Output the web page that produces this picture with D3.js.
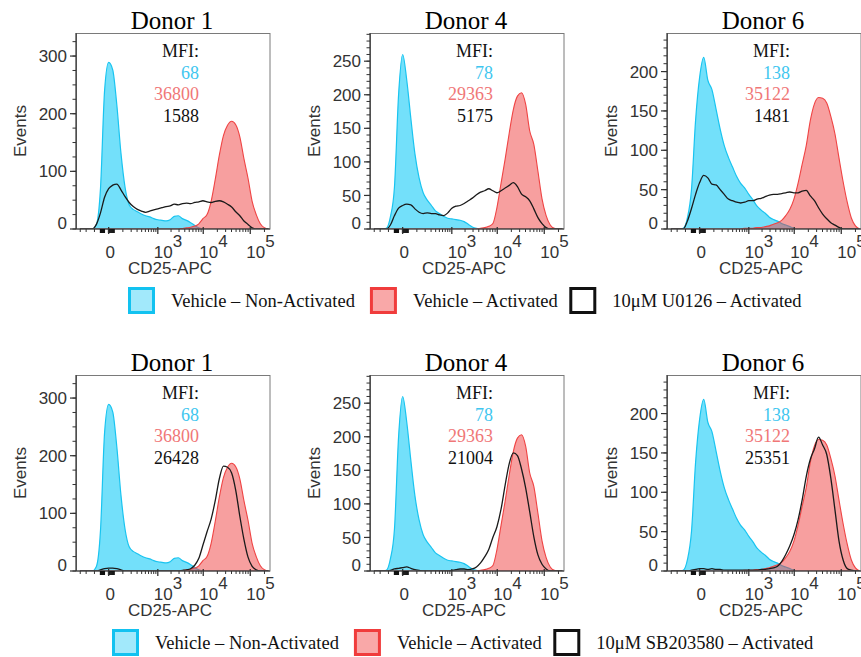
<!DOCTYPE html>
<html>
<head>
<meta charset="utf-8">
<script src="https://cdn.jsdelivr.net/npm/d3@7"></script>
<style>
  body { margin: 0; background: #fff; }
  svg { display: block; }
</style>
</head>
<body>
<svg id="chart" width="861" height="657"></svg>
<script>
// Histogram bin centres (CD25-APC intensity), evenly spaced on the biexponential display
const binCenters = [-306, -232, -172, -123, -82, -49, -22, 0, 22, 49, 82, 123, 172, 232, 306, 395, 505, 639,
  803, 1002, 1246, 1544, 1909, 2353, 2896, 3560, 4370, 5360, 6569, 8045, 9848, 12051, 14741, 18027, 22040,
  26945, 32930, 40243, 49180, 60081, 73399, 89642, 109563, 133845, 163536, 199700, 243900];

const donors = ["Donor 1", "Donor 4", "Donor 6"];

// Vehicle – Non-Activated (events per bin)
const nonActD1 = [0,0,0,0,8,70,240,289,276,215,132,72,42,34,30,26,23,21,18,16,15,14,16,22,23,18,15,11,6,2,
  0,0,0,0,0,0,0,0,0,0,0,0,0,0,0,0,0];
const nonActD4 = [0,0,0,1,18,63,200,260,222,165,112,76,54,43,35,27,23,19,16,15,14,13,11,7,3,1,
  0,0,0,0,0,0,0,0,0,0,0,0,0,0,0,0,0,0,0,0,0];
const nonActD6 = [0,0,0,1,14,50,138,193,218,189,177,152,127,106,91,79,67,58,52,44,37,29,24,20,15,12,10,7,5,3,1,
  0,0,0,0,0,0,0,0,0,0,0,0,0,0,0,0];

// Vehicle – Activated
const actD1 = [0,0,0,0,0,0,0,0,0,0,0,0,0,0,0,0,0,0,0,0,0,0,0,0,0,
  1,2,3,5,9,18,25,48,86,128,162,180,187,181,160,122,88,48,25,9,2,0];
const actD4 = [0,0,0,0,0,0,0,0,0,0,0,0,0,0,0,0,0,0,0,0,0,0,0,0,0,
  0,1,2,4,8,32,68,104,143,178,198,203,186,146,126,86,45,20,6,1,0,0];
const actD6 = [0,0,0,0,0,0,0,0,0,0,0,0,0,0,0,0,0,
  0,1,1,1,2,2,3,4,6,8,11,17,25,38,58,82,106,138,159,167,166,160,143,121,90,60,34,14,4,0];

// 10µM U0126 – Activated
const u0126D1 = [0,0,0,0,8,28,55,70,76,78,68,56,46,39,34,31,29,31,33,35,37,39,40,43,42,44,45,44,46,47,
  49,47,46,48,49,47,43,38,30,23,14,8,2,0,0,0,0];
const u0126D4 = [0,0,0,0,6,20,31,35,37,36,30,25,23,24,23,23,21,20,24,31,34,35,38,42,46,51,55,57,60,57,
  54,57,61,65,69,63,52,48,42,30,17,8,2,0,0,0,0];
const u0126D6 = [0,0,0,0,10,26,44,59,68,65,57,56,50,44,38,36,34,33,34,36,36,38,39,41,43,44,44,45,46,47,
  46,46,48,49,42,36,27,19,13,8,5,2,0,0,0,0,0];

// 10µM SB203580 – Activated
const sbD1 = [0,0,0,0,0,2,4,5,5,4,2,0,0,0,0,0,0,0,0,0,0,0,0,0,0,
  1,2,4,10,22,45,68,90,122,160,182,180,170,140,95,55,24,8,2,0,0,0];
const sbD4 = [0,0,0,0,1,3,4,5,6,4,2,1,0,0,0,0,0,0,0,1,2,3,3,2,3,
  6,12,21,32,50,66,92,128,160,176,172,152,124,88,51,24,10,3,0,0,0,0];
const sbD6 = [0,0,0,0,0,1,2,3,3,2,3,2,2,1,1,1,1,1,1,1,1,1,2,2,3,
  4,6,12,21,32,46,65,90,120,142,155,170,160,148,118,78,38,14,3,1,0,0];

const nonActivated = [nonActD1, nonActD4, nonActD6];
const activated = [actD1, actD4, actD6];
const treatedU0126 = [u0126D1, u0126D4, u0126D6];
const treatedSB = [sbD1, sbD4, sbD6];

// Median fluorescence intensities
const mfiNonActivated = [68, 78, 138];
const mfiActivated = [36800, 29363, 35122];
const mfiU0126 = [1588, 5175, 1481];
const mfiSB203580 = [26428, 21004, 25351];

// Event-count axes per donor
const eventsMax = [340, 292, 249];
const eventsMajorStep = [100, 50, 50];
const eventsMinorStep = [25, 10, 10];

// CD25-APC axis ticks
const xDomain = [-392, 262144];
const xMajorTicks = [0, 1000, 10000, 100000];
const xTickExponents = ["", "3", "4", "5"];
const xMinorTicks = [-300, -200, -100, 100, 200, 300, 400, 500, 600, 700, 800, 900,
  2000, 3000, 4000, 5000, 6000, 7000, 8000, 9000,
  20000, 30000, 40000, 50000, 60000, 70000, 80000, 90000, 200000];
const xZeroTicks = [-48, -42, -36, -30, -24, 0, 6, 12, 18, 24, 30];

const legendTop = ["Vehicle – Non-Activated", "Vehicle – Activated", "10μM U0126 – Activated"];
const legendBottom = ["Vehicle – Non-Activated", "Vehicle – Activated", "10μM SB203580 – Activated"];

// ---- layout & style ----
const W = 194, H = 196;
const panelLeft = [76, 370, 667];
const rowTop = [33, 375];
const legendStart = [128, 112];
const serif = "'Liberation Serif', 'Times New Roman', Times, serif";
const sans = "'Liberation Sans', Arial, Helvetica, sans-serif";
const C = {
  cyanFill: "rgba(0,198,245,0.55)", cyanLine: "#19c4f0", cyanText: "#3fc6ef",
  redFill: "rgba(240,64,64,0.5)", redLine: "#ef4444", redText: "#f07777",
  black: "#1a1a1a", axis: "#333", box: "#7a7a7a"
};

const svg = d3.select("#chart");
const defs = svg.append("defs");
defs.append("clipPath").attr("id", "plotClip")
  .append("rect").attr("x", 0).attr("y", 0).attr("width", W).attr("height", H);

const x = d3.scaleSymlog().constant(100).domain(xDomain).range([0, W]);

function toPoints(counts) {
  return binCenters.map((v, i) => ({ v, c: counts[i] }));
}

function drawPanel(row, col, treated, mfiTreated) {
  const g = svg.append("g").attr("transform", `translate(${panelLeft[col]},${rowTop[row]})`);
  const y = d3.scaleLinear().domain([0, eventsMax[col]]).range([H, 0]);

  const area = d3.area().x(d => x(d.v)).y0(y(0)).y1(d => y(d.c)).curve(d3.curveMonotoneX);
  const line = d3.line().x(d => x(d.v)).y(d => y(d.c)).curve(d3.curveMonotoneX);

  const plot = g.append("g").attr("clip-path", "url(#plotClip)");
  plot.append("path").datum(toPoints(nonActivated[col]))
    .attr("d", area).attr("fill", C.cyanFill).attr("stroke", C.cyanLine).attr("stroke-width", 1.2);
  plot.append("path").datum(toPoints(activated[col]))
    .attr("d", area).attr("fill", C.redFill).attr("stroke", C.redLine).attr("stroke-width", 1.1);
  plot.append("path").datum(toPoints(treated[col]))
    .attr("d", line).attr("fill", "none").attr("stroke", C.black).attr("stroke-width", 1.3);

  // frame
  g.append("rect").attr("x", 0.5).attr("y", 0.5).attr("width", W - 0.5).attr("height", H - 0.5)
    .attr("fill", "none").attr("stroke", C.box).attr("stroke-width", 1);
  g.append("line").attr("x1", 0).attr("x2", 0).attr("y1", 0).attr("y2", H)
    .attr("stroke", C.axis).attr("stroke-width", 1.2);
  g.append("line").attr("x1", 0).attr("x2", W).attr("y1", H).attr("y2", H)
    .attr("stroke", C.axis).attr("stroke-width", 1.2);

  // y axis ticks
  const minor = d3.range(0, eventsMax[col] + 0.01, eventsMinorStep[col]);
  const major = d3.range(0, eventsMax[col] + 0.01, eventsMajorStep[col]);
  g.selectAll(".ymin").data(minor).join("line")
    .attr("x1", -3.5).attr("x2", 0).attr("y1", d => y(d)).attr("y2", d => y(d))
    .attr("stroke", C.axis).attr("stroke-width", 1);
  g.selectAll(".ymaj").data(major).join("line")
    .attr("x1", -6).attr("x2", 0).attr("y1", d => y(d)).attr("y2", d => y(d))
    .attr("stroke", C.axis).attr("stroke-width", 1.2);
  g.selectAll(".ylab").data(major).join("text")
    .attr("x", -9).attr("y", d => d === 0 ? y(d) - 6 : y(d))
    .attr("dy", "0.36em").attr("text-anchor", "end")
    .attr("font-family", sans).attr("font-size", 17).attr("fill", C.axis)
    .text(d => d);

  g.append("text")
    .attr("transform", `translate(${-56},${H / 2}) rotate(-90)`)
    .attr("text-anchor", "middle").attr("dy", "0.36em")
    .attr("font-family", sans).attr("font-size", 17).attr("fill", C.axis)
    .text("Events");

  // x axis ticks
  g.selectAll(".xmin").data(xMinorTicks).join("line")
    .attr("x1", d => x(d)).attr("x2", d => x(d)).attr("y1", H).attr("y2", H + 3)
    .attr("stroke", C.axis).attr("stroke-width", 1);
  g.selectAll(".xzero").data(xZeroTicks).join("line")
    .attr("x1", d => x(d)).attr("x2", d => x(d)).attr("y1", H).attr("y2", H + 4)
    .attr("stroke", "#111").attr("stroke-width", 1.6);
  g.selectAll(".xmaj").data(xMajorTicks).join("line")
    .attr("x1", d => x(d)).attr("x2", d => x(d)).attr("y1", H - 2).attr("y2", H + 5)
    .attr("stroke", C.axis).attr("stroke-width", 1.3);

  const xl = g.selectAll(".xlab").data(xMajorTicks).join("text")
    .attr("font-family", sans).attr("font-size", 17).attr("fill", C.axis)
    .attr("x", (d, i) => i === 0 ? x(d) + 1.5 : x(d) - 4)
    .attr("y", H + 29)
    .attr("text-anchor", (d, i) => i === 0 ? "middle" : "start");
  xl.each(function (d, i) {
    const t = d3.select(this);
    if (i === 0) { t.text("0"); return; }
    t.append("tspan").text("10");
    t.append("tspan").attr("dy", -11.5).text(xTickExponents[i]);
  });

  g.append("text").attr("x", W / 2 - 3).attr("y", H + 45)
    .attr("text-anchor", "middle")
    .attr("font-family", sans).attr("font-size", 17).attr("fill", C.axis)
    .text("CD25-APC");

  // title
  g.append("text").attr("x", W / 2 - 1).attr("y", -4)
    .attr("text-anchor", "middle")
    .attr("font-family", serif).attr("font-size", 25).attr("fill", "#000")
    .text(donors[col]);

  // MFI block
  const mfiLines = [
    { t: "MFI:", c: "#111" },
    { t: mfiNonActivated[col], c: C.cyanText },
    { t: mfiActivated[col], c: C.redText },
    { t: mfiTreated[col], c: "#111" }
  ];
  g.selectAll(".mfi").data(mfiLines).join("text")
    .attr("x", 123).attr("y", (d, i) => 24 + i * 21.6)
    .attr("text-anchor", "end")
    .attr("font-family", serif).attr("font-size", 18).attr("fill", d => d.c)
    .text(d => d.t);
}

function drawLegend(row, labels) {
  const g = svg.append("g").attr("transform", `translate(0,${rowTop[row] + 254})`);
  const styles = [
    { fill: "#a2e9fb", stroke: "#12c2f0" },
    { fill: "#f9a8a8", stroke: "#f03c3c" },
    { fill: "#ffffff", stroke: "#111111" }
  ];
  const gaps = [15, 11.5];
  let cx = legendStart[row];
  labels.forEach((label, i) => {
    g.append("rect").attr("x", cx + 1.5).attr("y", 1.5).attr("width", 24).attr("height", 24)
      .attr("fill", styles[i].fill).attr("stroke", styles[i].stroke).attr("stroke-width", 3);
    const t = g.append("text").attr("x", cx + 43).attr("y", 20)
      .attr("font-family", serif).attr("font-size", 18.5).attr("fill", "#111")
      .text(label);
    const w = t.node().getComputedTextLength();
    cx = cx + 43 + w + (gaps[i] || 0);
  });
}

donors.forEach((d, col) => {
  drawPanel(0, col, treatedU0126, mfiU0126);
  drawPanel(1, col, treatedSB, mfiSB203580);
});
drawLegend(0, legendTop);
drawLegend(1, legendBottom);
</script>
</body>
</html>
